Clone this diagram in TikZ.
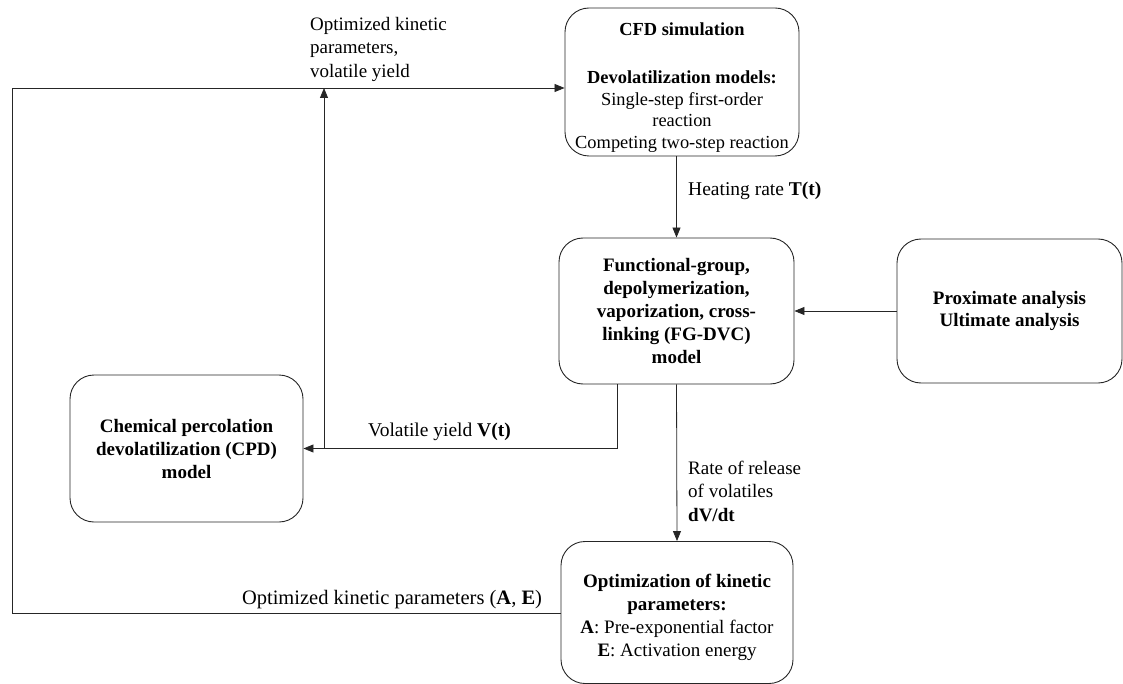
\documentclass[tikz,border=0pt]{standalone}
\usepackage{fontspec}
\setmainfont{Liberation Serif}
\usetikzlibrary{arrows.meta}
\newcommand\myfs{\fontsize{19}{21.5}\selectfont}
\newcommand\myfsb{\fontsize{19}{23}\selectfont}
\newcommand\myfsc{\fontsize{18.4}{21.5}\selectfont}
\begin{document}
\begin{tikzpicture}[x=1pt,y=-1pt,
  box/.style={draw=black!85, rounded corners=24pt, line width=0.9pt, align=center, inner sep=2pt, font=\myfs},
  lbl/.style={inner sep=0pt, align=left, font=\myfs},
  arr/.style={-{Triangle[length=10pt,width=8pt]}, line width=0.8pt, draw=black!85}]
\useasboundingbox (0,0) rectangle (1123,684);
% boxes
\node[box, font=\myfsc, minimum width=234pt, minimum height=148pt] (cfd) at (682,82)
  {~\\[1.5pt]\textbf{CFD simulation}\\[27pt]\textbf{Devolatilization models:}\\Single-step first-order\\reaction\\Competing two-step reaction};
\node[box, font=\myfsb, minimum width=235pt, minimum height=146pt] (fg) at (676.5,311)
  {\textbf{Functional-group,}\\\textbf{depolymerization,}\\\textbf{vaporization, cross-}\\\textbf{linking (FG-DVC)}\\\textbf{model}};
\node[box, minimum width=225pt, minimum height=144pt] (prox) at (1009.5,311)
  {\textbf{Proximate analysis}\\\textbf{Ultimate analysis}};
\node[box, font=\myfsb, minimum width=233pt, minimum height=147pt] (cpd) at (186.5,448.5)
  {\textbf{Chemical percolation}\\\textbf{devolatilization (CPD)}\\\textbf{model}};
\node[box, font=\myfsb, minimum width=232pt, minimum height=142pt] (opt) at (677,612.5)
  {~\\[1pt]\textbf{Optimization of kinetic}\\\textbf{parameters:}\\\textbf{A}: Pre-exponential factor\\\textbf{E}: Activation energy};
% coordinates
\coordinate (tl) at (12.5,88);
\coordinate (jb) at (324,448.5);
\coordinate (jt) at (324,88);
\coordinate (ob) at (561,613);
% connectors
\draw[arr] (fg.north |- cfd.south) -- (fg.north);
\draw[arr] (fg.south) -- (opt.north);
\draw[arr] (prox.west) -- (prox.west -| fg.east);
\draw[arr] ([xshift=-59.5pt]fg.south) |- (cpd.east);
\draw[arr] (jb) -- (jt);
\draw[arr] (ob) -- (ob -| tl) -- (tl) -- (cfd.west |- tl);
% labels
\node[lbl, anchor=west, font=\fontsize{19}{23.5}\selectfont] (l1) at (310,49) {Optimized kinetic\\parameters,\\volatile yield};
\node[lbl, anchor=west, font=\fontsize{19.5}{21.5}\selectfont] (l2) at (688,191) {Heating rate \textbf{T(t)}};
\node[lbl, anchor=west, font=\fontsize{19.5}{21.5}\selectfont] (l3) at (368,432) {Volatile yield \textbf{V(t)}};
\node[lbl, anchor=west, font=\fontsize{19}{23.5}\selectfont] (l4) at (688,491) {Rate of release\\of volatiles\\\textbf{dV/dt}};
\node[lbl, anchor=center, font=\fontsize{20.5}{22}\selectfont] (l5) at (392,600) {Optimized kinetic parameters (\textbf{A}, \textbf{E})};
\end{tikzpicture}
\end{document}
